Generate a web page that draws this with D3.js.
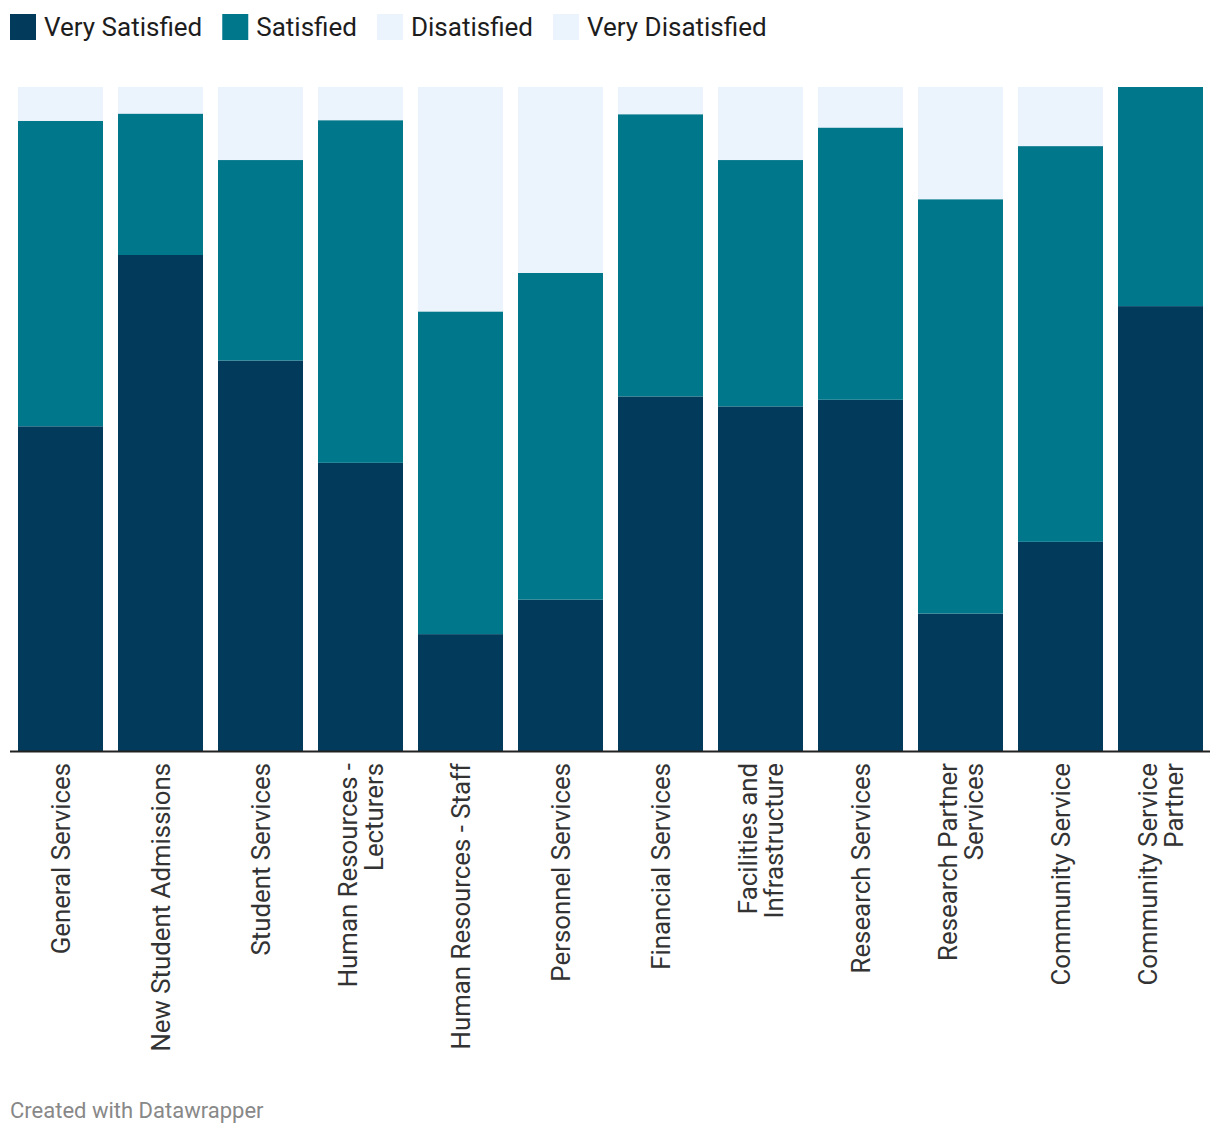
<!DOCTYPE html>
<html>
<head>
<meta charset="utf-8">
<script src="https://d3js.org/d3.v7.min.js"></script>
<style>
  body { margin: 0; background: #fff; font-family: Roboto, "Noto Sans", sans-serif; }
  .tick-label { fill: #333; font-size: 25.8px; }
  .legend-label { fill: #1d1d1d; font-size: 26px; }
  .footer { fill: #888; font-size: 22px; }
</style>
</head>
<body>
<div id="chart"></div>
<script>
// categories and their wrapped tick labels
const categories = [
  "General Services", "New Student Admissions", "Student Services", "Human Resources - Lecturers",
  "Human Resources - Staff", "Personnel Services", "Financial Services", "Facilities and Infrastructure",
  "Research Services", "Research Partner Services", "Community Service", "Community Service Partner"
];
const tickLabels = [
  ["General Services"], ["New Student Admissions"], ["Student Services"], ["Human Resources -", "Lecturers"],
  ["Human Resources - Staff"], ["Personnel Services"], ["Financial Services"], ["Facilities and", "Infrastructure"],
  ["Research Services"], ["Research Partner", "Services"], ["Community Service"], ["Community Service", "Partner"]
];

const seriesNames = ["Very Satisfied", "Satisfied", "Disatisfied", "Very Disatisfied"];
const verySatisfied    = [48.9, 74.7, 58.8, 43.4, 17.6, 22.8, 53.4, 51.9, 52.9, 20.7, 31.5, 67.0];
const satisfied        = [46.0, 21.3, 30.2, 51.6, 48.6, 49.2, 42.5, 37.1, 41.0, 62.4, 59.6, 33.0];
const disatisfied      = [5.1, 4.0, 11.0, 5.0, 33.8, 28.0, 4.1, 11.0, 6.1, 16.9, 8.9, 0];
const veryDisatisfied  = [0, 0, 0, 0, 0, 0, 0, 0, 0, 0, 0, 0];

const colors = ["#023a5b", "#00778a", "#ebf3fd", "#ebf3fd"];

const width = 1220, height = 1134;
const margins = { t: 87, b: 384, l: 10, r: 10 };

// build rows for the stack
const rows = categories.map((c, i) => ({
  category: c,
  "Very Satisfied": verySatisfied[i],
  "Satisfied": satisfied[i],
  "Disatisfied": disatisfied[i],
  "Very Disatisfied": veryDisatisfied[i]
}));

const stacked = d3.stack().keys(seriesNames)(rows);

const svg = d3.select("#chart").append("svg")
  .attr("width", width)
  .attr("height", height);

const x = d3.scaleBand()
  .domain(categories)
  .range([margins.l + 0.5, width - margins.r + 0.5])
  .paddingInner(0.15)
  .paddingOuter(0.075);

const y = d3.scaleLinear()
  .domain([0, 100])
  .range([height - margins.b + 1, margins.t]);

const color = d3.scaleOrdinal().domain(seriesNames).range(colors);

// bars
svg.append("g").selectAll("g")
  .data(stacked)
  .join("g")
    .attr("fill", d => color(d.key))
  .selectAll("rect")
  .data(d => d)
  .join("rect")
    .attr("x", d => x(d.data.category))
    .attr("y", d => y(d[1]))
    .attr("width", x.bandwidth())
    .attr("height", d => y(d[0]) - y(d[1]));

// baseline
svg.append("line")
  .attr("x1", margins.l).attr("x2", width - margins.r)
  .attr("y1", y(0) + 0.5).attr("y2", y(0) + 0.5)
  .attr("stroke", "#222").attr("stroke-width", 2);

// rotated x tick labels
const lineGap = 26;
const ticks = svg.append("g").selectAll("text")
  .data(categories)
  .join("text")
    .attr("class", "tick-label")
    .attr("text-anchor", "end")
    .attr("transform", (d, i) => {
      const cx = x(d) + x.bandwidth() / 2;
      const n = tickLabels[i].length;
      const offset = -(n - 1) * lineGap / 2;
      return `translate(${cx + offset + 9},${y(0) + 12}) rotate(-90)`;
    });

ticks.each(function(d, i) {
  d3.select(this).selectAll("tspan")
    .data(tickLabels[i])
    .join("tspan")
      .attr("x", 0)
      .attr("y", (t, j) => j * lineGap)
      .text(t => t);
});

// legend
const legend = svg.append("g").attr("transform", "translate(10,14)");
let lx = 0;
seriesNames.forEach((s, i) => {
  legend.append("rect")
    .attr("x", lx).attr("y", 0)
    .attr("width", 26).attr("height", 26)
    .attr("fill", colors[i]);
  const t = legend.append("text")
    .attr("class", "legend-label")
    .attr("x", lx + 34).attr("y", 22)
    .text(s);
  lx += 34 + t.node().getComputedTextLength() + 20;
});

// footer
svg.append("text")
  .attr("class", "footer")
  .attr("x", 10).attr("y", 1118)
  .text("Created with Datawrapper");
</script>
</body>
</html>
